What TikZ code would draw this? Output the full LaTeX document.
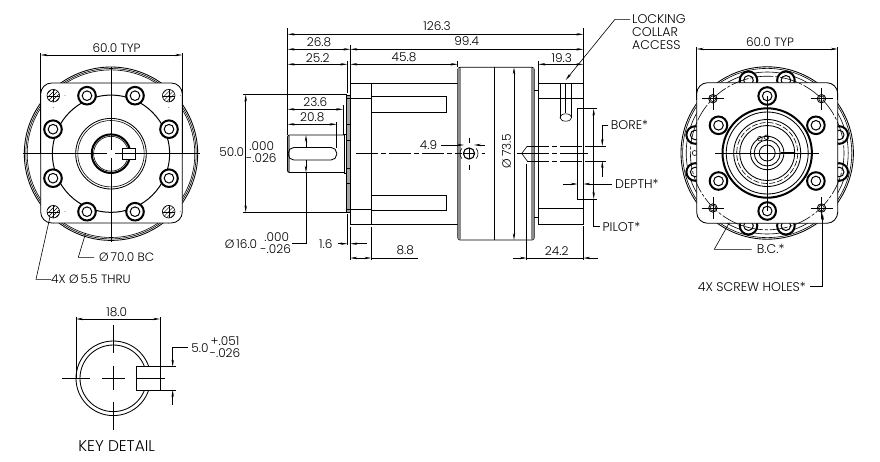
\documentclass[tikz,border=0pt]{standalone}
\usepackage{fontspec}
\setmainfont{Poppins Light}
\usetikzlibrary{arrows.meta}
\tikzset{
 thin line/.style={line width=0.6pt,black},
 outline/.style={line width=0.85pt,black},
 heavy/.style={line width=2pt,black},
 dim/.style={thin line,{Stealth[length=7pt,width=2.4pt]}-{Stealth[length=7pt,width=2.4pt]}},
 lead/.style={thin line,-{Stealth[length=7pt,width=2.4pt]}},
 chain/.style={thin line,dash pattern=on 22pt off 3pt on 5pt off 3pt},
 lbl/.style={inner sep=0pt,font=\fontsize{12.1}{12.1}\selectfont,text=black},
 lbls/.style={lbl,anchor=west},
 capslbl/.style={lbls,font=\fontsize{12.6}{12.6}\selectfont},
}
\newcommand{\boltring}[2]{\draw[heavy,fill=white] (#1,#2) circle (8.8);\draw[line width=1pt] (#1,#2) circle (4.8);}
\begin{document}
\begin{tikzpicture}[x=1pt,y=-1pt]
\useasboundingbox (0,0) rectangle (880,461);
\fill[white] (0,0) rectangle (880,461);
% ---------- LEFT VIEW
\begin{scope}[shift={(111,153.7)}]
\draw[outline] (0,0) circle (86.7);
\draw[thin line] (0,0) circle (85.2);
\draw[thin line] (0,0) circle (83.8);
\draw[outline,fill=white,rounded corners=11pt] (-70.3,-70.7) rectangle (71.3,69.3);
\draw[line width=1pt] (0,0) circle (58.6);
\foreach \a/\b in {-24/-58,24/-58,-58/-24.5,58/-24.5,-58/24.5,58/24.5,-24/58,24/58}{\boltring{\a}{\b}}
\foreach \a/\b in {-57.7/-58,57.7/-58,-57.7/58,57.7/58}{
 \draw[thin line,fill=white] (\a,\b) circle (6.3);
 \begin{scope}
 \clip (\a,\b) circle (6.3);
 \foreach \k in {-8,-4,0,4,8}{\draw[line width=0.4pt,black] (\a+\k-7,\b+7) -- (\a+\k+7,\b-7);}
 \draw[line width=0.4pt,black] (\a-7,\b) -- (\a+7,\b) (\a,\b-7) -- (\a,\b+7);
 \end{scope}
 \fill[black!60] (\a+11.7,\b) circle (0.5) (\a,\b+11.7) circle (0.5);
}
\draw[outline] (0,0) circle (35.3);
\draw[thin line] (0,0) circle (33.2);
\draw[heavy] (0,0) circle (19.3);
\draw[thin line] (0,0) circle (17.4);
\draw[outline,fill=white] (11.7,-5.7) rectangle (24,5.6);
\draw[thin line] (-88,0) -- (-4,0) (4,0) -- (89,0);
\draw[thin line] (0,-86.7) -- (0,-4) (0,4) -- (0,88);
\end{scope}
\draw[thin line] (40.7,53) -- (40.7,153);
\draw[thin line] (182.3,53) -- (182.3,153);
\draw[dim] (40.7,55) -- (182.3,55);
\node[lbl] (a1) at (116.5,48) {60.0 TYP};
\node[lbls] (a2) at (99,257.3) {Ø\,70.0 BC};
\node[lbls] (a3) at (51,279.3) {4X Ø\,5.5 THRU};
\draw[thin line] (85.7,233) -- (78.3,257.3) -- (94,257.3);
\draw[thin line] (50,216.7) -- (36,279.3) -- (a3.west);
% ---------- MIDDLE VIEW
\fill[black!45] (288,135.5) -- (289.6,135.5) -- (289.6,172.2) -- (288,172.2) -- cycle;
\draw[outline,rounded corners=2pt] (345,135) -- (287.5,135) -- (287.5,172.5) -- (345,172.5);
\draw[outline,rounded corners=5.6pt] (288.2,147.5) rectangle (336.7,160);
\draw[outline] (344,134) rectangle (346.7,173.7);
\fill[black!35] (346.7,95) rectangle (350.5,212.3);
\draw[outline] (346.7,95) rectangle (350.3,212.3);
\foreach \y in {98.3,124.3,140,168.3,183.3,209}{\draw[outline] (346.7,\y) -- (350.3,\y);}
\draw[outline] (350.3,83.3) rectangle (371.3,224);
\draw[outline] (350.3,98.3) -- (371.3,98.3) (350.3,209) -- (371.3,209);
\draw[outline] (371.3,83.3) -- (457.7,83.3) (371.3,224) -- (457.7,224);
\draw[outline] (371.3,96.7) rectangle (446.7,112.3);
\draw[outline] (371.3,195) rectangle (446.7,210.7);
\draw[outline,fill=white,rounded corners=2.5pt] (457.7,67.3) rectangle (534.3,240);
\fill[black!45] (458.1,68) rectangle (460.8,239.3) (531.2,68) rectangle (533.9,239.3);
\draw[outline] (494.3,67.3) -- (494.3,240);
\draw[outline] (534.3,90) -- (538.3,90) (534.3,217) -- (538.3,217);
\draw[outline] (538.3,83.3) rectangle (583.3,224);
\draw[outline] (538.3,98.3) -- (583.3,98.3) (538.3,208.3) -- (583.3,208.3);
\draw[thin line] (560,83.3) -- (560,118) (571.7,83.3) -- (571.7,118);
\draw[thin line] (565.7,83.3) -- (565.7,113);
\draw[thin line] (565.8,117.5) ellipse (5.8 and 3.7);
\draw[outline,fill=white] (577.7,108.7) rectangle (583.3,199);
\draw[chain] (356,153.5) -- (462,153.5);
\draw[thin line] (481.7,153.5) -- (484.5,153.5);
\draw[thin line,dash pattern=on 32pt off 3pt on 5pt off 3pt] (517.3,153.5) -- (588.3,153.5);
\draw[chain] (527.3,146) -- (586.7,146);
\draw[chain] (527.3,161) -- (586.7,161);
\draw[thin line] (527.3,146) -- (521.7,153.5) -- (527.3,161);
\draw[line width=1.1pt] (469,153.5) circle (5.6);
\draw[thin line] (463.5,153.5) -- (474.5,153.5);
\draw[thin line] (469,138) -- (469,143) (469,148) -- (469,159) (469,164.5) -- (469,169.5);
\draw[thin line] (476.13,148.36) arc[start angle=-40,end angle=40,radius=8];
\draw[thin line] (461.87,158.64) arc[start angle=140,end angle=220,radius=8];
% dimensions middle
\draw[thin line] (287.7,28) -- (287.7,135);
\draw[thin line] (350.3,45) -- (350.3,83.3);
\draw[thin line] (347.3,61) -- (347.3,93);
\draw[thin line] (583.3,28) -- (583.3,83.3);
\draw[thin line] (538.3,61) -- (538.3,83.3);
\draw[thin line] (457.7,61) -- (457.7,67.3);
\draw[dim] (287.7,34.3) -- (583.3,34.3);
\draw[dim] (287.7,49.3) -- (350.3,49.3);
\draw[dim] (350.3,49.3) -- (583.3,49.3);
\draw[dim] (287.7,64.3) -- (347.3,64.3);
\draw[dim] (350.3,64.3) -- (457.7,64.3);
\draw[dim] (538.3,64.3) -- (583.3,64.3);
\node[lbl] (b1) at (437,26.5) {126.3};
\node[lbl] (b2) at (319,42.7) {26.8};
\node[lbl] (b3) at (466.7,41.5) {99.4};
\node[lbl] (b4) at (317.7,57.7) {25.2};
\node[lbl] (b5) at (404,57.7) {45.8};
\node[lbl] (b6) at (561.7,57.7) {19.3};
\draw[thin line] (343,105) -- (343,135) (336.7,122) -- (336.7,148);
\draw[dim] (287.7,109.3) -- (343,109.3);
\draw[dim] (287.7,124.3) -- (336.7,124.3);
\node[lbl] (b7) at (315.3,102.3) {23.6};
\node[lbl] (b8) at (312.3,117.3) {20.8};
\draw[thin line] (243,94.5) -- (346.7,94.5) (243,212.3) -- (346.7,212.3);
\draw[dim] (245.7,94.5) -- (245.7,212.3);
\node[lbl] (b9) at (231.7,152.3) {50.0};
\node[lbl] (b10) at (261.7,146) {.000};
\node[lbl] (b11) at (261.3,158.5) {-.026};
\draw[lead] (306,147.5) -- (306,135);
\draw[lead] (306,160) -- (306,172.5);
\draw[thin line] (306,172.5) -- (306,243.3) -- (291.7,243.3);
\node[lbl] (b12) at (241,244) {Ø\,16.0};
\node[lbl] (b13) at (276.7,236.7) {.000};
\node[lbl] (b14) at (275.7,249) {-.026};
\node[lbl] (b15) at (325.7,244.3) {1.6};
\draw[lead] (338,243.7) -- (347.3,243.7);
\draw[lead] (366.7,243.7) -- (350.3,243.7);
\draw[thin line] (347.3,214) -- (347.3,245) (350.3,226.7) -- (350.3,260) (371.3,226.7) -- (371.3,260);
\draw[dim] (350.3,258) -- (371.3,258);
\draw[thin line] (371.3,258) -- (418.3,258);
\node[lbl] (b16) at (405.3,250.7) {8.8};
\node[lbl] (b17) at (556.7,251.3) {24.2};
\draw[thin line] (526.7,163.7) -- (526.7,260) (583.3,226) -- (583.3,260);
\draw[lead] (512.7,258) -- (526.7,258);
\draw[lead] (598,258) -- (583.3,258);
\draw[thin line] (526.7,258) -- (583.3,258);
\draw[dim] (514,67.3) -- (514,240);
\node[lbl,rotate=90] (b18) at (506.5,151) {Ø\,73.5};
\node[lbl] (b19) at (428.5,145) {4.9};
\draw[lead] (441,145) -- (464,145);
\draw[lead] (485,145) -- (474,145);
% callouts middle
\node[capslbl] (c1) at (632,19.3) {LOCKING};
\node[capslbl] (c2) at (632,32) {COLLAR};
\node[capslbl] (c3) at (632,45) {ACCESS};
\draw[lead] (630,19.3) -- (615,19.3) -- (565.7,80);
\node[capslbl] (c4) at (610.7,125) {BORE*};
\draw[lead] (608.3,125) -- (602.3,125) -- (602.3,146);
\draw[lead] (602.3,176.7) -- (602.3,161);
\draw[thin line] (586.7,146) -- (605.7,146) (586.7,161) -- (605.7,161);
\node[capslbl] (c5) at (615,184.3) {DEPTH*};
\draw[lead] (562.7,184) -- (577.7,184);
\draw[lead] (611.7,184) -- (583.3,184);
\draw[thin line] (583.3,108.7) -- (596.7,108.7) (583.3,199) -- (596.7,199);
\draw[dim] (593.7,108.7) -- (593.7,199);
\draw[thin line] (593.7,199) -- (593.7,226.7) -- (600,226.7);
\node[capslbl] (c6) at (602.3,226.5) {PILOT*};
% ---------- RIGHT VIEW
\begin{scope}[shift={(767.2,153)}]
\draw[outline] (0,0) circle (86.2);
\draw[thin line] (0,0) circle (84.6);
\draw[thin line] (0,0) circle (81);
\foreach \a/\b in {-18.7/-72.7,18.7/-72.7,-72/-18,72/-18,-72/19,72/19,-18.7/72.7,18.7/72.7}{\boltring{\a}{\b}}
\draw[thin line] (-72.5,0) circle (2.5);
\draw[outline,fill=white,rounded corners=11pt] (-70.5,-70.3) rectangle (70.5,70.3);
\draw[thin line,dash pattern=on 18pt off 2pt on 3pt off 2pt] (0,0) circle (76.8);
\foreach \a/\b in {0/-57,-48.7/-27.7,48.7/-27.7,-48.7/28,48.7/28,0/58}{\boltring{\a}{\b}}
\foreach \a/\b in {-54.3/-54.3,54.3/-54.3,-54.3/55,54.3/55}{
 \draw[outline,fill=white] (\a,\b) circle (4.2);
 \draw[thin line] (\a,\b) circle (2.8);
 \draw[thin line] (\a-11,\b) -- (\a+11,\b) (\a,\b-11) -- (\a,\b+11);
}
\draw[heavy] (0,0) circle (44.7);
\draw[outline] (0,0) circle (41);
\draw[outline] (0,0) circle (33.5);
\draw[thin line,dash pattern=on 6pt off 2pt] (0,0) circle (30.5);
\draw[outline] (0,0) circle (27.5);
\draw[outline] (0,0) circle (16.7);
\draw[outline] (0,0) circle (13);
\draw[outline] (0,0) circle (8);
\draw[thin line] (-7.3,-14.3) circle (2.3) (-0.7,-15.7) circle (2.3);
\draw[heavy] (14,0) -- (28,0);
\draw[thin line] (-52,0) -- (51.3,0);
\draw[thin line] (0,-57) -- (0,58);
\end{scope}
\draw[thin line] (696.7,47) -- (696.7,100) (837.7,47) -- (837.7,100);
\draw[dim] (696.7,49) -- (837.7,49);
\node[lbl] (d1) at (770,42.3) {60.0 TYP};
\node[capslbl] (d2) at (756.7,249.3) {B.C.*};
\node[capslbl] (d3) at (697.7,287) {4X SCREW HOLES*};
\draw[thin line] (729.3,222.7) -- (714.3,249.3) -- (751.7,249.3);
\draw[lead] (810,286.7) -- (822.7,286.7) -- (822.7,213.3);
% ---------- KEY DETAIL
\begin{scope}[shift={(113.3,378.3)}]
\draw[outline] (0,0) circle (37.3);
\draw[outline] (0,0) circle (33.3);
\draw[outline,fill=white] (23.4,-11.6) rectangle (46.7,11.7);
\draw[thin line] (-51.6,0) -- (-23.3,0) (-11.6,0) -- (11.7,0) (23.4,0) -- (51.7,0);
\draw[thin line] (0,-53.3) -- (0,-25.3) (0,-12.6) -- (0,11.7) (0,23.4) -- (0,51.7);
\end{scope}
\draw[thin line] (76,317) -- (76,378) (160,317) -- (160,366.7);
\draw[dim] (76,319) -- (160,319);
\node[lbl] (e1) at (116.7,312.3) {18.0};
\node[lbl] (e2) at (200,348) {5.0};
\node[lbl] (e3) at (225,340.7) {+.051};
\node[lbl] (e4) at (225,353.3) {-.026};
\draw[thin line] (160,366.7) -- (176,366.7) (160,390) -- (176,390);
\draw[lead] (187.7,347.7) -- (172.7,347.7) -- (172.7,366.7);
\draw[lead] (172.7,405) -- (172.7,390);
\node[lbl,font=\fontsize{15.5}{15.5}\selectfont] (e5) at (116.7,445.7) {KEY DETAIL};
\end{tikzpicture}
\end{document}
